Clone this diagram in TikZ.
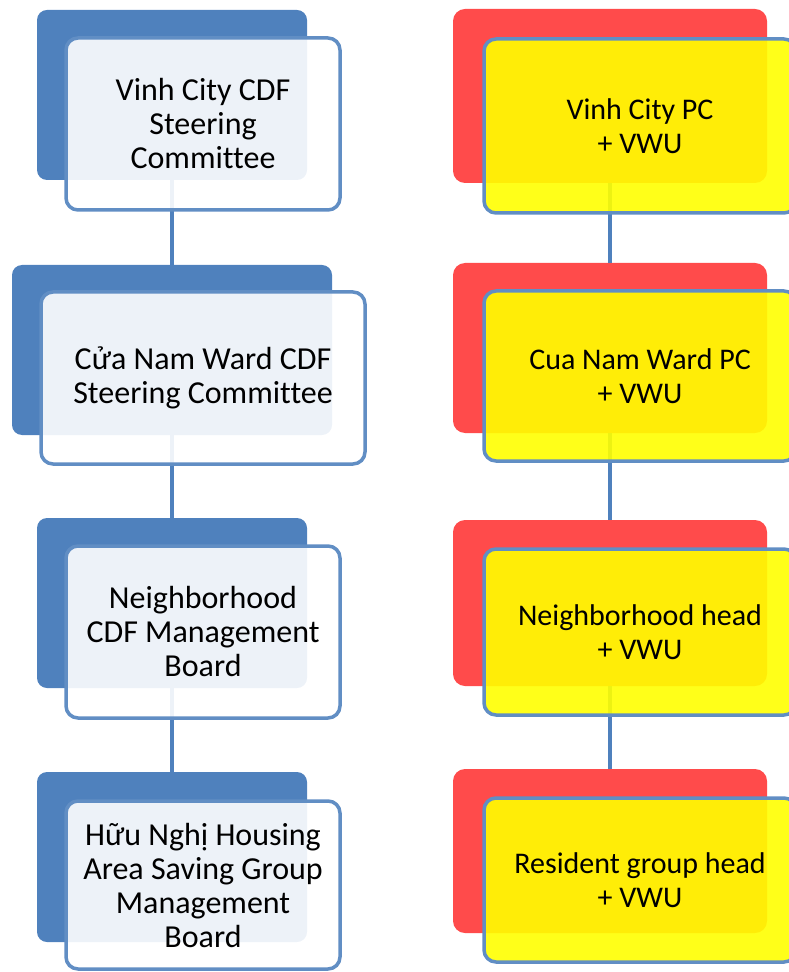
\documentclass[tikz,border=0pt]{standalone}
\usepackage{fontspec}
\setmainfont{Carlito}[Ligatures=NoCommon]
\usetikzlibrary{positioning}
\definecolor{cdfblue}{HTML}{4F81BD}
\definecolor{pcred}{HTML}{FF4B4B}
\definecolor{pcyellow}{HTML}{FFFF00}
\tikzset{
	backbox/.style={rounded corners=5pt, fill=cdfblue, inner sep=0pt, minimum width=135pt, minimum height=85pt},
	frontbox/.style={rounded corners=6pt, draw=cdfblue!90!white, line width=1.75pt, fill=white, fill opacity=0.9, text opacity=1, align=center, inner sep=0pt, minimum width=137pt, minimum height=86pt, font=\fontsize{16}{17}\selectfont},
	redbox/.style={rounded corners=6pt, fill=pcred, inner sep=0pt, minimum width=157pt, minimum height=85pt},
	yellowbox/.style={rounded corners=6pt, draw=cdfblue!90!white, line width=1.75pt, fill=pcyellow, fill opacity=0.9, text opacity=1, align=center, inner sep=0pt, minimum width=156pt, minimum height=85pt, font=\fontsize{15}{17}\selectfont},
	link/.style={draw=cdfblue, line width=1.75pt}
}
\begin{document}
\begin{tikzpicture}[x=0.5pt, y=-0.5pt]
		\useasboundingbox (0,0) rectangle (788,972);
		% left column, back boxes
		\node[backbox] (B1) at (172, 95) {};
		\node[backbox, minimum width=160pt] (B2) at (172, 350) {};
		\node[backbox] (B3) at (172, 603) {};
		\node[backbox] (B4) at (172, 857) {};
		% right column, back boxes
		\node[redbox, minimum height=87pt] (R1) at (610, 96) {};
		\node[redbox] (R2) at (610, 348) {};
		\node[redbox, minimum height=83pt] (R3) at (610, 603) {};
		\node[redbox, minimum height=82pt] (R4) at (610, 851) {};
		% connectors
		\draw[link] (B1) -- (B2);
		\draw[link] (B2) -- (B3);
		\draw[link] (B3) -- (B4);
		\draw[link] (R1) -- (R2);
		\draw[link] (R2) -- (R3);
		\draw[link] (R3) -- (R4);
		% left column, front boxes
		\node[frontbox] (F1) at (203, 124) {Vinh City CDF\\Steering\\Committee};
		\node[frontbox, minimum width=162pt] (F2) at (203, 378) {Cửa Nam Ward CDF\\Steering Committee};
		\node[frontbox] (F3) at (203, 632) {Neighborhood\\CDF Management\\Board};
		\node[frontbox, minimum height=84pt] (F4) at (203, 885) {Hữu Nghị Housing\\Area Saving Group\\Management\\Board};
		% right column, front boxes
		\node[yellowbox, minimum height=87pt] (Y1) at (640, 126) {Vinh City PC\\+ VWU};
		\node[yellowbox] (Y2) at (640, 376) {Cua Nam Ward PC\\+ VWU};
		\node[yellowbox, minimum height=83pt] (Y3) at (640, 632) {Neighborhood head\\+ VWU};
		\node[yellowbox, minimum height=82pt] (Y4) at (640, 880) {Resident group head\\+ VWU};
	\end{tikzpicture}
\end{document}
